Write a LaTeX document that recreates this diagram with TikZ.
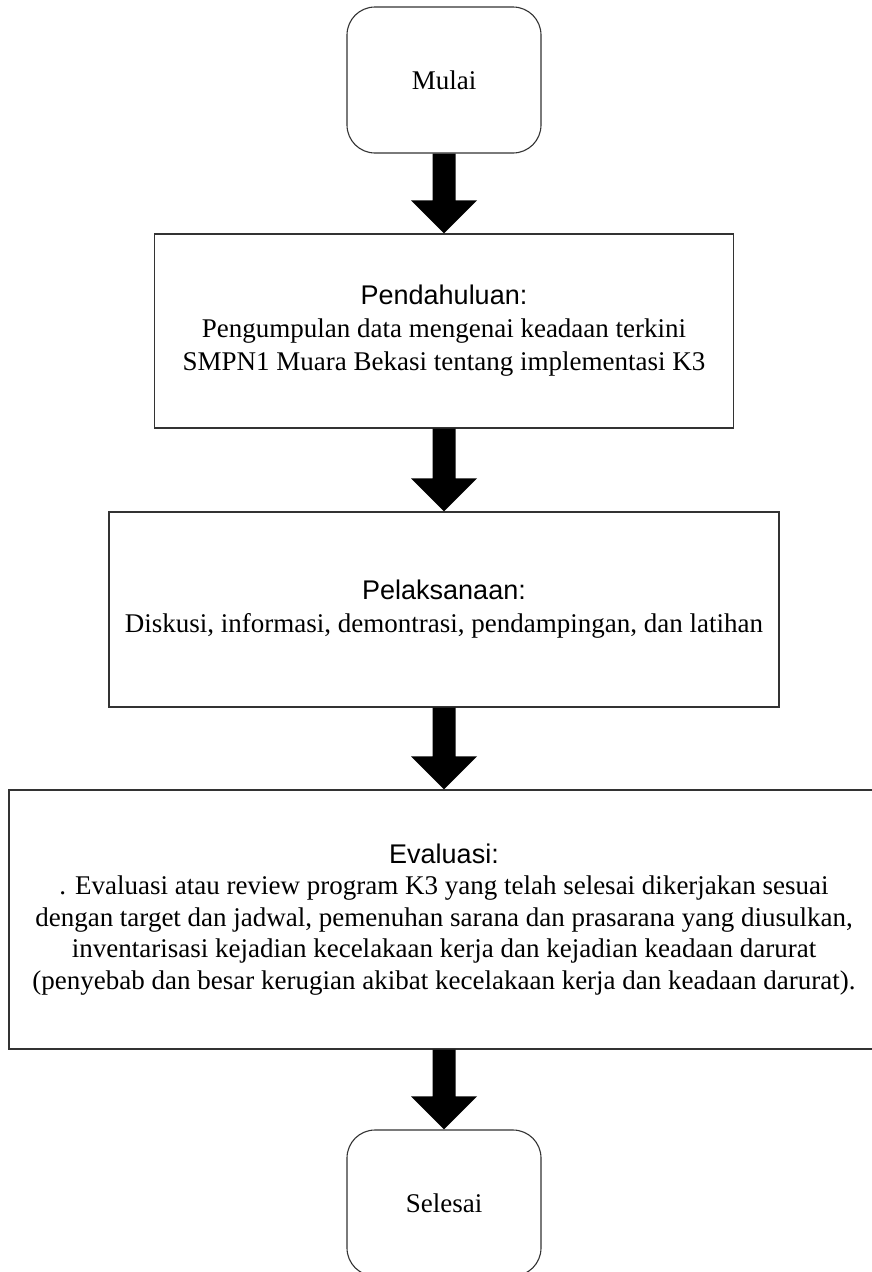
\documentclass[tikz,border=0pt]{standalone}
\usepackage{fontspec}
\setmainfont{Liberation Serif}
\newfontfamily\headfont{Liberation Sans}
\usetikzlibrary{calc}
\tikzset{
  box/.style={draw=black!80, line width=1.1pt, inner sep=0pt, align=center,
    font=\fontsize{27}{33}\selectfont},
  roundbox/.style={box, rounded corners=28pt},
  blockarrow/.style={fill=black, draw=none}
}
\newcommand\blockarr[2]{%
  \path[blockarrow] let \p1=(#1.south), \p2=(#2.north) in
    (\x1-11.5pt,\y1) -- (\x1+11.5pt,\y1) -- (\x1+11.5pt,\y2+33pt) --
    (\x1+33pt,\y2+33pt) -- (\x1,\y2) -- (\x1-33pt,\y2+33pt) --
    (\x1-11.5pt,\y2+33pt) -- cycle;}
\begin{document}
\begin{tikzpicture}[x=1pt,y=-1pt]
\useasboundingbox (0,0) rectangle (872,1272);
\clip (0,0) rectangle (872,1272);
\fill[white] (0,0) rectangle (872,1272);
\node[roundbox, minimum width=194pt, minimum height=146pt] (start) at (444,80) {Mulai};
\node[box, minimum width=579pt, minimum height=194pt] (pend) at (444,331)
  {{\headfont Pendahuluan:}\\Pengumpulan data mengenai keadaan terkini\\SMPN1 Muara Bekasi tentang implementasi K3};
\node[box, minimum width=670pt, minimum height=195pt] (pel) at (444,609.5)
  {{\headfont Pelaksanaan:}\\Diskusi, informasi, demontrasi, pendampingan, dan latihan};
\node[box, minimum width=870pt, minimum height=259pt, font=\fontsize{27}{31.5}\selectfont] (eval) at (444,919.5)
  {{\headfont Evaluasi:}\\. Evaluasi atau review program K3 yang telah selesai dikerjakan sesuai\\dengan target dan jadwal, pemenuhan sarana dan prasarana yang diusulkan,\\inventarisasi kejadian kecelakaan kerja dan kejadian keadaan darurat\\(penyebab dan besar kerugian akibat kecelakaan kerja dan keadaan darurat).};
\node[roundbox, minimum width=194pt, minimum height=146pt] (end) at (444,1203) {Selesai};
\blockarr{start}{pend}
\blockarr{pend}{pel}
\blockarr{pel}{eval}
\blockarr{eval}{end}
\end{tikzpicture}
\end{document}
